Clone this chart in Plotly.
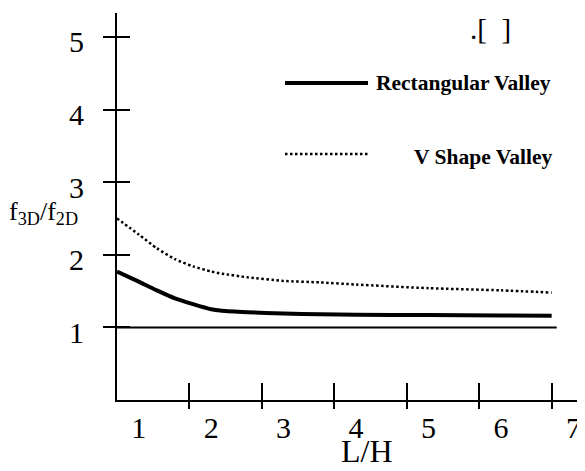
import plotly.graph_objects as go

# ---- data ----
lh = [0.7, 1.0, 1.25, 1.5, 1.75, 2.0, 2.15, 2.5, 3.0, 3.5, 4.0, 5.0, 6.0, 6.7]
rect_valley = [1.77, 1.63, 1.51, 1.40, 1.32, 1.25, 1.23, 1.21, 1.19, 1.18, 1.175, 1.17, 1.165, 1.16]
v_valley = [2.50, 2.28, 2.09, 1.94, 1.84, 1.77, 1.74, 1.69, 1.64, 1.62, 1.59, 1.54, 1.51, 1.48]
ref_x = [0.7, 6.77]
ref_y = [1.0, 1.0]

x_label_vals = [1, 2, 3, 4, 5, 6, 7]
x_label_text = ["1", "2", "3", "4", "5", "6", "7"]
x_tick_marks = [1.7, 2.7, 3.7, 4.7, 5.7, 6.7]
y_tick_vals = [1, 2, 3, 4, 5]
y_tick_text = ["1", "2", "3", "4", "5"]

series_names = ["Rectangular Valley", "V Shape Valley"]

FONT = "Liberation Serif"
XR = [0.7, 7.05]
YR = [0, 5.33]

fig = go.Figure()
fig.add_trace(go.Scatter(x=ref_x, y=ref_y, mode="lines",
                         line=dict(color="black", width=2), showlegend=False, hoverinfo="skip"))
fig.add_trace(go.Scatter(x=lh, y=rect_valley, mode="lines", name=series_names[0],
                         line=dict(color="black", width=4, shape="spline", smoothing=0.6),
                         showlegend=False))
fig.add_trace(go.Scatter(x=lh, y=v_valley, mode="lines", name=series_names[1],
                         line=dict(color="black", width=2.5, dash="2.5px,2.5px",
                                   shape="spline", smoothing=0.6),
                         showlegend=False))
# dummy traces so the overlay tick axes are drawn
fig.add_trace(go.Scatter(x=[None], y=[None], xaxis="x2", yaxis="y", showlegend=False))
fig.add_trace(go.Scatter(x=[None], y=[None], xaxis="x3", yaxis="y", showlegend=False))
fig.add_trace(go.Scatter(x=[None], y=[None], xaxis="x", yaxis="y2", showlegend=False))

common = dict(showgrid=False, zeroline=False)
fig.update_layout(
    # page body has an 8px margin; the plot area is placed to match the reference
    width=577, height=463,
    margin=dict(l=109, r=8, t=5, b=71),
    paper_bgcolor="white", plot_bgcolor="white",
    font=dict(family=FONT, color="black"),
    showlegend=False,
    xaxis=dict(range=XR, tickvals=x_label_vals, ticktext=x_label_text, ticks="",
               showline=True, linecolor="black", linewidth=2,
               tickfont=dict(family=FONT, size=30, color="black"),
               ticklabelstandoff=0, ticklabeloverflow="allow", **common),
    xaxis2=dict(range=XR, overlaying="x", anchor="y", side="bottom", tickvals=x_tick_marks,
                ticks="outside", ticklen=8, tickwidth=2, tickcolor="black",
                showticklabels=False, showline=False, **common),
    xaxis3=dict(range=XR, overlaying="x", anchor="y", side="bottom", tickvals=x_tick_marks,
                ticks="inside", ticklen=17, tickwidth=2, tickcolor="black",
                showticklabels=False, showline=False, **common),
    yaxis=dict(range=YR, tickvals=y_tick_vals, ticktext=y_tick_text,
               ticks="outside", ticklen=12, tickwidth=2, tickcolor="black",
               showline=True, linecolor="black", linewidth=2,
               tickfont=dict(family=FONT, size=30, color="black"),
               ticklabelstandoff=13, ticklabelshift=5, **common),
    yaxis2=dict(range=YR, overlaying="y", anchor="x", side="left", tickvals=y_tick_vals,
                ticks="inside", ticklen=13, tickwidth=2, tickcolor="black",
                showticklabels=False, showline=False, **common),
)

def px_x(p):
    return (p - 117) / 460.0

def px_y(p):
    return (400 - p) / 387.0

# legend keys
fig.add_shape(type="line", xref="paper", yref="paper",
              x0=px_x(285), x1=px_x(368), y0=px_y(83), y1=px_y(83),
              line=dict(color="black", width=4))
fig.add_shape(type="line", xref="paper", yref="paper",
              x0=px_x(285), x1=px_x(368), y0=px_y(154), y1=px_y(154),
              line=dict(color="black", width=2.5, dash="2.5px,2.5px"))

fig.add_annotation(text="<b>" + series_names[0] + "</b>", xref="paper", yref="paper",
                   x=px_x(374), y=px_y(83), xanchor="left", yanchor="middle", showarrow=False,
                   font=dict(family=FONT, size=21.5, color="black"))
fig.add_annotation(text="<b>" + series_names[1] + "</b>", xref="paper", yref="paper",
                   x=px_x(554), y=px_y(157), xanchor="right", yanchor="middle", showarrow=False,
                   font=dict(family=FONT, size=21.5, color="black"))
fig.add_annotation(text=".[\u00a0\u00a0]", xref="paper", yref="paper",
                   x=px_x(490), y=px_y(29), xanchor="center", yanchor="middle", showarrow=False,
                   font=dict(family=FONT, size=29, color="black"))
fig.add_annotation(text="f<sub>3D</sub>/f<sub>2D</sub>", xref="paper", yref="paper",
                   x=px_x(43), y=px_y(213), xanchor="center", yanchor="middle", showarrow=False,
                   font=dict(family=FONT, size=26, color="black"))
fig.add_annotation(text="L/H", xref="paper", yref="paper",
                   x=px_x(367), y=px_y(451), xanchor="center", yanchor="middle", showarrow=False,
                   font=dict(family=FONT, size=32, color="black"))

fig.write_html("out.html")
